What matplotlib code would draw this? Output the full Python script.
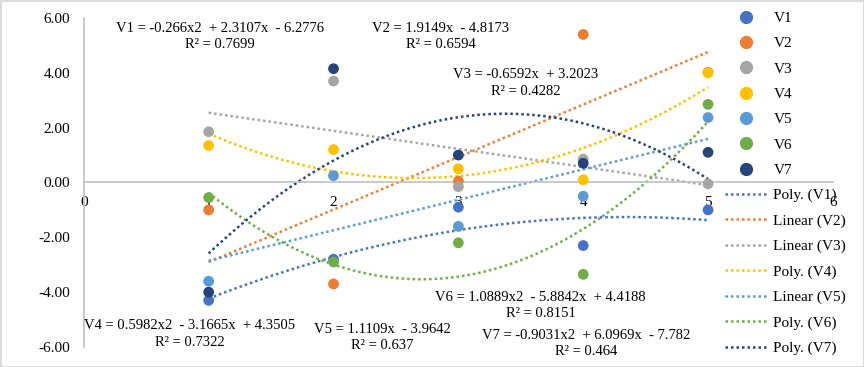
import numpy as np
import matplotlib.pyplot as plt
from matplotlib.lines import Line2D

x = [1, 2, 3, 4, 5]
V1 = [-4.3, -2.8, -0.9, -2.3, -1.0]
V2 = [-1.0, -3.7, 0.05, 5.4, 4.02]
V3 = [1.85, 3.7, -0.15, 0.85, -0.05]
V4 = [1.35, 1.2, 0.5, 0.1, 4.0]
V5 = [-3.6, 0.25, -1.6, -0.5, 2.37]
V6 = [-0.55, -2.9, -2.2, -3.35, 2.85]
V7 = [-4.0, 4.15, 1.0, 0.7, 1.1]

names = ["V1", "V2", "V3", "V4", "V5", "V6", "V7"]
series = [V1, V2, V3, V4, V5, V6, V7]
colors = ["#4472C4", "#ED7D31", "#A5A5A5", "#FFC000", "#5B9BD5", "#70AD47", "#264478"]

# trendline coefficients as printed on the chart (highest power first)
trend_kind = ["Poly.", "Linear", "Linear", "Poly.", "Linear", "Poly.", "Poly."]
trend_coef = [
    [-0.266, 2.3107, -6.2776],
    [1.9149, -4.8173],
    [-0.6592, 3.2023],
    [0.5982, -3.1665, 4.3505],
    [1.1109, -3.9642],
    [1.0889, -5.8842, 4.4188],
    [-0.9031, 6.0969, -7.782],
]
eq_text = [
    "V1 = -0.266x2  + 2.3107x  - 6.2776\nR² = 0.7699",
    "V2 = 1.9149x  - 4.8173\nR² = 0.6594",
    "V3 = -0.6592x  + 3.2023\nR² = 0.4282",
    "V4 = 0.5982x2  - 3.1665x  + 4.3505\nR² = 0.7322",
    "V5 = 1.1109x  - 3.9642\nR² = 0.637",
    "V6 = 1.0889x2  - 5.8842x  + 4.4188\nR² = 0.8151",
    "V7 = -0.9031x2  + 6.0969x  - 7.782\nR² = 0.464",
]
eq_pos = [(1.09, 5.33), (2.86, 5.33), (3.54, 3.62), (0.85, -5.53),
          (2.39, -5.65), (3.66, -4.48), (4.02, -5.87)]

plt.rcParams['font.family'] = ['Liberation Serif', 'DejaVu Serif']

fig = plt.figure(figsize=(8.64, 3.67), dpi=100)
ax = fig.add_axes([0.097, 0.0545, 0.867, 0.8965])

xs = np.linspace(1, 5, 200)
for c, col in zip(trend_coef, colors):
    ax.plot(xs, np.polyval(c, xs), color=col, lw=1.8, ls=(0, (1, 1.2)), zorder=2)
for s, col in zip(series, colors):
    ax.scatter(x, s, s=60, color=col, edgecolors="none", zorder=3)

for t, (px, py) in zip(eq_text, eq_pos):
    ax.text(px, py, t, ha="center", va="center", fontsize=10.5, linespacing=1.35)

ax.set_xlim(0, 6)
ax.set_ylim(-6, 6)
ax.set_yticks(np.arange(-6, 7, 2))
ax.set_yticklabels(["%.2f" % v for v in np.arange(-6, 7, 2)])
ax.set_xticks(range(7))
for sp in ["top", "right"]:
    ax.spines[sp].set_visible(False)
ax.spines["bottom"].set_position(("data", 0))
ax.spines["bottom"].set_color("#BFBFBF")
ax.spines["left"].set_color("#BFBFBF")
ax.spines["bottom"].set_linewidth(1.2)
ax.spines["left"].set_linewidth(1.2)
ax.tick_params(length=0, labelsize=11)
ax.tick_params(axis="x", pad=10)
ax.tick_params(axis="y", pad=10)
ax.patch.set_alpha(0)

handles = [Line2D([], [], ls="none", marker="o", ms=8.5, color=c) for c in colors]
labels = list(names)
for k, n, c in zip(trend_kind, names, colors):
    handles.append(Line2D([], [], color=c, lw=1.8, ls=(0, (1, 1.2))))
    labels.append("%s (%s)" % (k, n))
fig.legend(handles, labels, loc="upper left", bbox_to_anchor=(0.827, 0.998),
           frameon=False, fontsize=11, handlelength=2.75, labelspacing=0.76,
           handletextpad=0.4, borderaxespad=0.3)

fig.patches.append(plt.Rectangle((0, 0), 1, 1, transform=fig.transFigure,
                                 fill=False, edgecolor="#D9D9D9", lw=2))

fig.savefig("out.png", dpi=100)
